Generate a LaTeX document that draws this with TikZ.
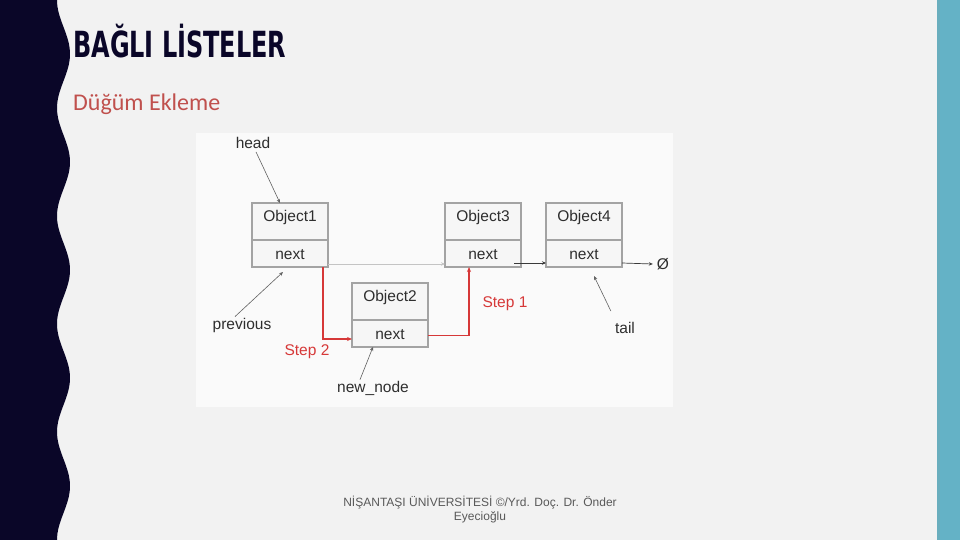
\documentclass[tikz,border=0pt]{standalone}
\usepackage{fontspec}
\setmainfont{Liberation Sans}
\newfontfamily\titlefont{DejaVuSansCondensed-Bold.ttf}[FakeStretch=0.74]
\newfontfamily\subfont{Carlito}
\usetikzlibrary{arrows.meta,positioning,calc}
\definecolor{slidebg}{HTML}{F2F2F2}
\definecolor{panelbg}{HTML}{FAFAFA}
\definecolor{navyband}{HTML}{0A0628}
\definecolor{tealband}{HTML}{64B2C6}
\definecolor{tealedge}{HTML}{6AAEBE}
\definecolor{subred}{HTML}{C0504D}
\definecolor{boxline}{HTML}{A3A3A3}
\definecolor{boxfill}{HTML}{F6F6F6}
\definecolor{labeltext}{HTML}{2E2E2E}
\definecolor{linkgray}{HTML}{3A3A3A}
\definecolor{oldgray}{HTML}{C4C4C4}
\definecolor{stepred}{HTML}{D63838}
\definecolor{footgray}{HTML}{595959}

\begin{document}
\begin{tikzpicture}[
  x=1pt, y=1pt,
  font=\fontsize{15.5}{18}\selectfont,
  namecell/.style={draw=boxline, line width=1.2pt, fill=boxfill, outer sep=0pt,
    minimum width=76pt, minimum height=37pt, inner sep=0pt, text=labeltext,
    text depth=11pt},
  nextcell/.style={namecell, minimum height=27pt, text depth=0pt, text height=12pt},
  label/.style={text=labeltext, inner sep=1pt},
  link/.style={draw=linkgray, line width=0.7pt, -{Stealth[length=4pt,width=3.5pt]}},
  pointer/.style={draw=linkgray!80, line width=0.6pt, -{Stealth[length=4pt,width=3.5pt]}},
  steparrow/.style={draw=stepred, line width=1.1pt, -{Stealth[length=5pt,width=4pt]}},
  steplabel/.style={text=stepred, inner sep=1pt}
]
% slide background and side bands
\fill[slidebg] (0,0) rectangle (960,-540);
\useasboundingbox (0,0) rectangle (960,-540);
\fill[navyband] (0,0) -- plot[domain=0:540, samples=160] ({63.5-6.5*cos(\x/108*360)}, -\x) -- (0,-540) -- cycle;
\fill[tealband] (936.5,0) rectangle (960,-540);
\fill[tealedge] (936.5,0) rectangle (940,-540);

% titles
\node[anchor=base west, inner sep=0pt, text=navyband] (title) at (73,-57.5)
  {\titlefont\fontsize{36}{42}\selectfont BAĞLI LİSTELER};
\node[anchor=base west, inner sep=0pt, text=subred] (subtitle) at (73,-111)
  {\subfont\fontsize{24}{28}\selectfont Düğüm Ekleme};

% diagram panel
\fill[panelbg] (196,-133) rectangle (673,-407);

% list nodes
\node[namecell] (o1) at (290,-221.5) {Object1};
\node[nextcell, below=0pt of o1] (o1n) {next};
\node[namecell, right=117pt of o1] (o3) {Object3};
\node[nextcell, below=0pt of o3] (o3n) {next};
\node[namecell, right=25pt of o3] (o4) {Object4};
\node[nextcell, below=0pt of o4] (o4n) {next};
\node[namecell, below right=16pt and 24pt of o1n] (o2) {Object2};
\node[nextcell, below=0pt of o2] (o2n) {next};
\node[label] (null) at (663,-264) {Ø};

% labels
\node[label] (head) at (253,-143) {head};
\node[label] (previous) at (242,-325) {previous};
\node[label] (tail) at (625,-328) {tail};
\node[label] (newnode) at (373,-388) {new\_node};
\node[steplabel] (step1) at (505,-304) {Step 1};
\node[steplabel] (step2) at (307,-352) {Step 2};

% links
\draw[link, draw=oldgray] ([yshift=3pt]o1n.south east) -- ([yshift=3pt]o3n.south west);
\draw[link] ([shift={(-7pt,4pt)}]o3n.south east) -- ([yshift=4pt]o4n.south west);
\draw[link] ([yshift=4pt]o4n.south east) -- ([xshift=-3pt]null.west);

% pointers
\draw[pointer] ([shift={(3pt,-2pt)}]head.south) -- ([xshift=-10pt]o1.north);
\draw[pointer] ([xshift=-7pt]previous.north) -- ([shift={(-45pt,-5pt)}]o1n.south east);
\draw[pointer] ([shift={(-3pt,10pt)}]tail.north west) -- ([shift={(48pt,-9pt)}]o4n.south west);
\draw[pointer] ([xshift=-13pt]newnode.north) -- ([xshift=-17pt]o2n.south);

% insertion steps
\draw[steparrow] ([xshift=-5pt]o1n.south east) |- ([yshift=8pt]o2n.south west);
\draw[steparrow] ([yshift=-2pt]o2n.east) -| ([xshift=-14pt]o3n.south);

% footer
\node[align=center, text=footgray, font=\fontsize{12}{14}\selectfont] (footer) at (480,-510)
  {NİŞANTAŞI ÜNİVERSİTESİ ©/Yrd. Doç. Dr. Önder\\Eyecioğlu};
\end{tikzpicture}
\end{document}
